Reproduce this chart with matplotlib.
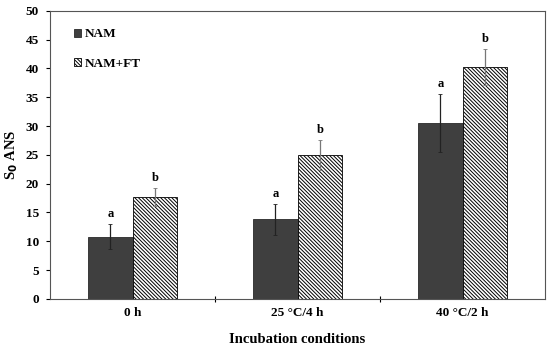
import matplotlib.pyplot as plt
import numpy as np

plt.rcParams['font.family'] = ['Liberation Serif', 'DejaVu Serif']
plt.rcParams['font.weight'] = 'bold'
plt.rcParams['hatch.linewidth'] = 0.7

conditions = ['0 h', '25 °C/4 h', '40 °C/2 h']
nam = [10.8, 13.8, 30.5]
nam_err = [2.2, 2.7, 5.0]
nam_ft = [17.7, 25.0, 40.3]
nam_ft_err = [1.5, 2.6, 3.1]
nam_letters = ['a', 'a', 'a']
ft_letters = ['b', 'b', 'b']

fig = plt.figure(figsize=(5.5, 3.48), dpi=100)
ax = fig.add_axes([0.091, 0.141, 0.900, 0.828])

x = np.arange(len(conditions))
w = 0.27
ax.bar(x - w / 2, nam, w, color='#3f3f3f', edgecolor='#2a2a2a', linewidth=0.6,
       label='NAM')
ax.bar(x + w / 2, nam_ft, w, color='white', edgecolor='black', linewidth=0.6,
       hatch='\\' * 9, label='NAM+FT')
ax.errorbar(x - w / 2, nam, yerr=nam_err, fmt='none', ecolor='#222222',
            elinewidth=0.9, capsize=1.5, capthick=0.6)
ax.errorbar(x + w / 2, nam_ft, yerr=nam_ft_err, fmt='none', ecolor='#777777',
            elinewidth=0.9, capsize=1.5, capthick=0.6)

for xi, v, e, t in zip(x - w / 2, nam, nam_err, nam_letters):
    ax.text(xi, v + e + 0.7, t, ha='center', va='bottom', fontsize=9, fontweight='bold')
for xi, v, e, t in zip(x + w / 2, nam_ft, nam_ft_err, ft_letters):
    ax.text(xi, v + e + 0.7, t, ha='center', va='bottom', fontsize=9, fontweight='bold')

ax.set_xlim(-0.5, 2.5)
ax.set_ylim(0, 50)
ax.set_yticks(np.arange(0, 51, 5))
ax.set_xticks(x)
ax.set_xticklabels(conditions, fontsize=9.5, fontweight='bold')
ax.tick_params(axis='x', length=0, pad=6)
ax.set_xticks([0.5, 1.5], minor=True)
ax.tick_params(axis='x', which='minor', length=4, direction='inout', width=0.8)
ax.tick_params(axis='y', labelsize=9.5, length=3, width=0.8, pad=5)
for lab in ax.get_yticklabels():
    lab.set_fontweight('bold')

for s in ax.spines.values():
    s.set_color('#555555')
    s.set_linewidth(0.8)

ax.set_xlabel('Incubation conditions', fontsize=10.5, fontweight='bold', labelpad=10)
ax.set_ylabel('S$_\\mathbf{0}$ ANS', fontsize=10.5, fontweight='bold', labelpad=4)

ax.legend(loc='upper left', bbox_to_anchor=(0.025, 0.98), frameon=False,
          handlelength=0.5, handleheight=0.5, handletextpad=0.3, labelspacing=1.3,
          prop={'weight': 'bold', 'size': 9.5})

fig.savefig('out.png', dpi=100)
